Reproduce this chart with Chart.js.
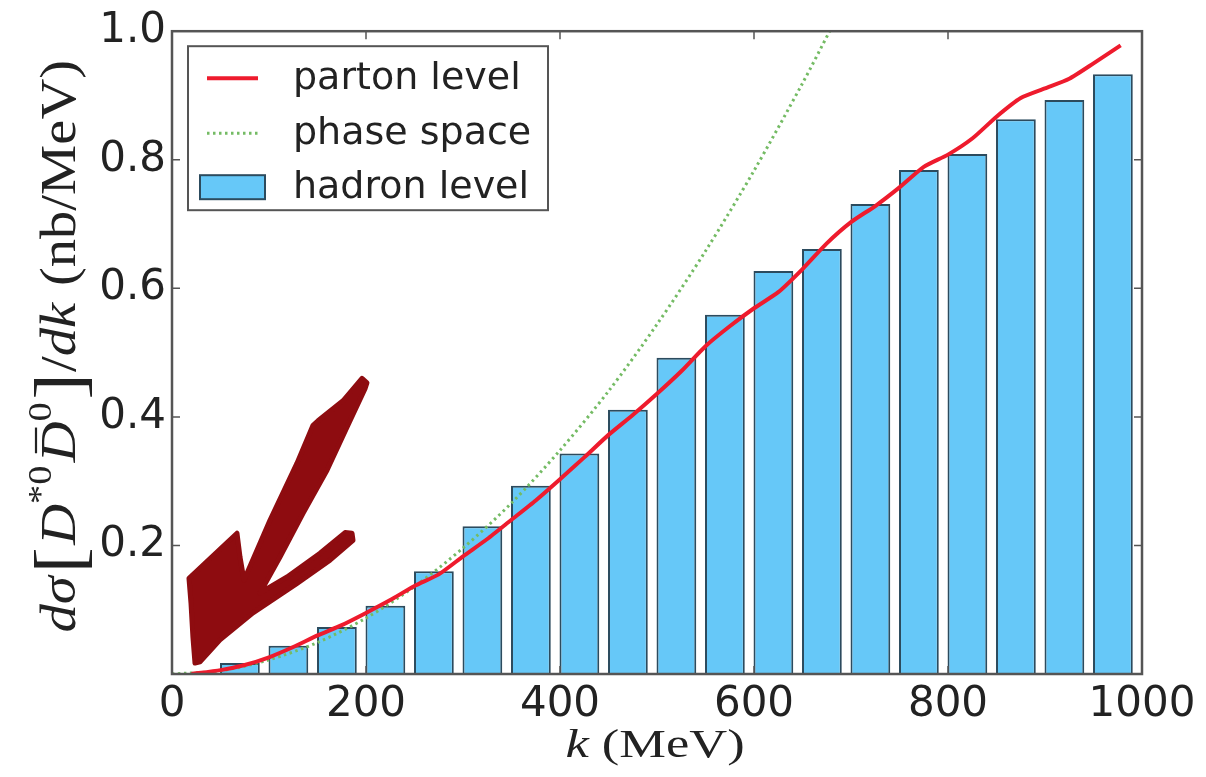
<!DOCTYPE html>
<html>
<head>
<meta charset="utf-8">
<script src="https://cdn.jsdelivr.net/npm/chart.js@4.4.1/dist/chart.umd.min.js"></script>
<style>
html,body{margin:0;padding:0;background:#ffffff;}
#wrap{width:1206px;height:777px;}
</style>
</head>
<body>
<div id="wrap"><canvas id="c" width="1206" height="777"></canvas></div>
<script>
// ---- data ----
const binCenters = [70,120,170,220,270,320,370,420,470,520,570,620,670,720,770,820,870,920,970];
const hadronLevel = [0.017,0.044,0.073,0.106,0.160,0.230,0.293,0.343,0.411,0.492,0.559,0.627,0.661,0.731,0.784,0.809,0.863,0.893,0.933];

const partonK = [20,50,75,100,125,150,175,200,225,250,275,300,325,350,375,400,425,450,475,500,525,550,575,600,625,650,675,700,725,750,775,800,825,850,875,900,925,950,978];
const partonV = [0.0,0.006,0.014,0.026,0.042,0.060,0.076,0.095,0.115,0.137,0.155,0.183,0.210,0.240,0.270,0.303,0.337,0.372,0.403,0.436,0.471,0.510,0.541,0.569,0.594,0.630,0.670,0.703,0.728,0.757,0.789,0.808,0.833,0.867,0.896,0.911,0.926,0.950,0.978];

const phaseK = [0,50,100,150,200,250,300,350,400,450,500,550,600,650,678];
const phaseV = [0,0.005,0.022,0.049,0.087,0.136,0.196,0.266,0.348,0.440,0.544,0.658,0.783,0.919,1.0];

const xTicks = [0,200,400,600,800,1000];
const yTicks = [0.2,0.4,0.6,0.8,1.0];
const seriesLabels = ['parton level','phase space','hadron level'];

// hand-drawn arrow annotation outline, in data units (k, value)
const arrowK = [23.7,21.6,19.6,17.5,67.0,70.1,74.2,101.0,128.9,145.4,150.5,176.3,195.9,201.0,199.0,180.4,159.8,135.1,111.3,90.7,118.6,152.6,178.4,185.6,186.6,162.9,128.9,83.5,49.5,28.9];
const arrowV = [0.017,0.057,0.110,0.149,0.219,0.182,0.146,0.239,0.328,0.387,0.394,0.425,0.460,0.453,0.444,0.384,0.317,0.250,0.182,0.126,0.151,0.188,0.220,0.219,0.208,0.177,0.141,0.095,0.053,0.019];

const zip = (xs, ys) => xs.map((x, i) => ({x: x, y: ys[i]}));

const RED = '#ee1b2d';
const GREEN = '#74bb64';
const BLUE = '#66c8f8';
const BAR_EDGE = '#2c4b5e';
const ARROW = '#8e0c10';
const FRAME = '#555555';
const TXT = '#222222';

const decor = {
  id: 'decor',
  afterDatasetsDraw(chart) {
    const ctx = chart.ctx, a = chart.chartArea, x = chart.scales.x, y = chart.scales.y;
    ctx.save();
    // frame
    ctx.strokeStyle = FRAME; ctx.lineWidth = 2.5;
    ctx.strokeRect(a.left, a.top, a.right - a.left, a.bottom - a.top);
    // inward ticks
    ctx.lineWidth = 1.5;
    ctx.beginPath();
    xTicks.forEach(v => {
      const px = x.getPixelForValue(v);
      ctx.moveTo(px, a.bottom); ctx.lineTo(px, a.bottom - 8);
      ctx.moveTo(px, a.top); ctx.lineTo(px, a.top + 8);
    });
    yTicks.forEach(v => {
      const py = y.getPixelForValue(v);
      ctx.moveTo(a.left, py); ctx.lineTo(a.left + 8, py);
      ctx.moveTo(a.right, py); ctx.lineTo(a.right - 8, py);
    });
    ctx.stroke();
    // arrow annotation
    ctx.beginPath();
    arrowK.forEach((k, i) => {
      const px = x.getPixelForValue(k), py = y.getPixelForValue(arrowV[i]);
      if (i === 0) ctx.moveTo(px, py); else ctx.lineTo(px, py);
    });
    ctx.closePath();
    ctx.fillStyle = ARROW; ctx.strokeStyle = ARROW; ctx.lineWidth = 5; ctx.lineJoin = 'round';
    ctx.fill(); ctx.stroke();
    ctx.restore();
  },
  afterDraw(chart) {
    const ctx = chart.ctx, a = chart.chartArea;
    ctx.save();
    // ---- legend ----
    const lx = a.left + 16, ly = a.top + 15, lw = 360, lh = 164;
    ctx.fillStyle = '#ffffff';
    ctx.fillRect(lx, ly, lw, lh);
    ctx.strokeStyle = FRAME; ctx.lineWidth = 2;
    ctx.strokeRect(lx, ly, lw, lh);
    const ds = chart.data.datasets;
    const rows = [32, 87, 141];
    ctx.font = '38px "DejaVu Sans"';
    ctx.textBaseline = 'alphabetic';
    ds.forEach((d, i) => {
      const cy = ly + rows[i];
      if (d.type === 'line') {
        ctx.save();
        ctx.strokeStyle = d.borderColor; ctx.lineWidth = d.borderWidth;
        ctx.setLineDash(d.borderDash || []);
        ctx.beginPath(); ctx.moveTo(lx + 19, cy); ctx.lineTo(lx + 70, cy); ctx.stroke();
        ctx.restore();
      } else {
        ctx.fillStyle = d.backgroundColor;
        ctx.fillRect(lx + 12, cy - 12, 65, 24);
        ctx.strokeStyle = d.borderColor; ctx.lineWidth = 2;
        ctx.strokeRect(lx + 12, cy - 12, 65, 24);
      }
      ctx.fillStyle = TXT;
      ctx.fillText(d.label, lx + 105, cy + 11);
    });
    // ---- x axis title: k (MeV) ----
    ctx.save();
    const xs = 1.28;
    ctx.font = 'italic 41px "Liberation Serif"';
    const w1 = ctx.measureText('k').width;
    ctx.font = '41px "Liberation Serif"';
    const w2 = ctx.measureText(' (MeV)').width;
    const tot = (w1 + w2) * xs;
    const cx = (a.left + a.right) / 2 - 2;
    ctx.translate(cx - tot / 2, 757);
    ctx.scale(xs, 1);
    ctx.fillStyle = TXT;
    ctx.font = 'italic 41px "Liberation Serif"';
    ctx.fillText('k', 0, 0);
    ctx.font = '41px "Liberation Serif"';
    ctx.fillText(' (MeV)', w1, 0);
    ctx.restore();
    // ---- y axis title ----
    const f = 50;
    const segs = [
      {t: 'd', it: true},
      {t: 'σ', it: true, gap: 0.05},
      {t: '[', s: 1.4, dy: 0.16, gap: 0.04},
      {t: 'D', it: true},
      {t: '*0', s: 0.68, dy: -0.48, gap: 0.06},
      {t: 'D', it: true, bar: true},
      {t: '0', s: 0.68, dy: -0.48, gap: 0.05},
      {t: ']', s: 1.4, dy: 0.16, gap: 0.02},
      {t: '/', it: false},
      {t: 'dk', it: true, gap: 0.05},
      {t: ' (nb/MeV)'}
    ];
    const fontOf = sg => (sg.it ? 'italic ' : '') + Math.round(f * (sg.s || 1)) + 'px "Liberation Serif"';
    let L = 0;
    segs.forEach(sg => { ctx.font = fontOf(sg); sg.w = ctx.measureText(sg.t).width; sg.x = L; L += sg.w + (sg.gap || 0) * f; });
    const ys = 1.13;
    ctx.save();
    ctx.translate(75, 60 + L * ys);
    ctx.rotate(-Math.PI / 2);
    ctx.scale(ys, 1);
    ctx.fillStyle = TXT; ctx.strokeStyle = TXT;
    segs.forEach(sg => {
      ctx.font = fontOf(sg);
      ctx.fillText(sg.t, sg.x, (sg.dy || 0) * f);
      if (sg.bar) {
        ctx.lineWidth = 2.2;
        ctx.beginPath();
        ctx.moveTo(sg.x + 0.22 * sg.w, -0.78 * f);
        ctx.lineTo(sg.x + 0.85 * sg.w, -0.78 * f);
        ctx.stroke();
      }
    });
    ctx.restore();
    ctx.restore();
  }
};

const chart = new Chart(document.getElementById('c'), {
  type: 'bar',
  data: {
    datasets: [
      {
        type: 'line', label: seriesLabels[0], data: zip(partonK, partonV),
        borderColor: RED, backgroundColor: RED, borderWidth: 4, pointRadius: 0,
        tension: 0.2, order: 1, fill: false
      },
      {
        type: 'line', label: seriesLabels[1], data: zip(phaseK, phaseV),
        borderColor: GREEN, backgroundColor: GREEN, borderWidth: 3, borderDash: [2.5, 3.5],
        pointRadius: 0, tension: 0.3, order: 2, fill: false
      },
      {
        type: 'bar', label: seriesLabels[2], data: zip(binCenters, hadronLevel),
        backgroundColor: BLUE, borderColor: BAR_EDGE, borderWidth: 2,
        barPercentage: 0.82, categoryPercentage: 1.0, order: 3
      }
    ]
  },
  options: {
    responsive: false,
    animation: false,
    devicePixelRatio: 1,
    layout: {padding: {left: 0, right: 64, top: 30, bottom: 0}},
    plugins: {legend: {display: false}, tooltip: {enabled: false}, title: {display: false}},
    scales: {
      x: {
        type: 'linear', min: 0, max: 1000, offset: false,
        grid: {display: false, drawTicks: false},
        border: {display: false},
        afterBuildTicks: s => { s.ticks = xTicks.map(v => ({value: v})); },
        afterFit: s => { s.height = 103; },
        ticks: {
          autoSkip: false, maxRotation: 0, padding: 6, color: TXT,
          font: {family: '"DejaVu Sans"', size: 42},
          callback: v => String(v)
        }
      },
      y: {
        type: 'linear', min: 0, max: 1.0,
        grid: {display: false, drawTicks: false},
        border: {display: false},
        afterBuildTicks: s => { s.ticks = yTicks.map(v => ({value: v})); },
        afterFit: s => { s.width = 172; },
        ticks: {
          padding: 6, color: TXT,
          font: {family: '"DejaVu Sans"', size: 42},
          callback: v => Number(v).toFixed(1)
        }
      }
    }
  },
  plugins: [decor]
});
</script>
</body>
</html>
